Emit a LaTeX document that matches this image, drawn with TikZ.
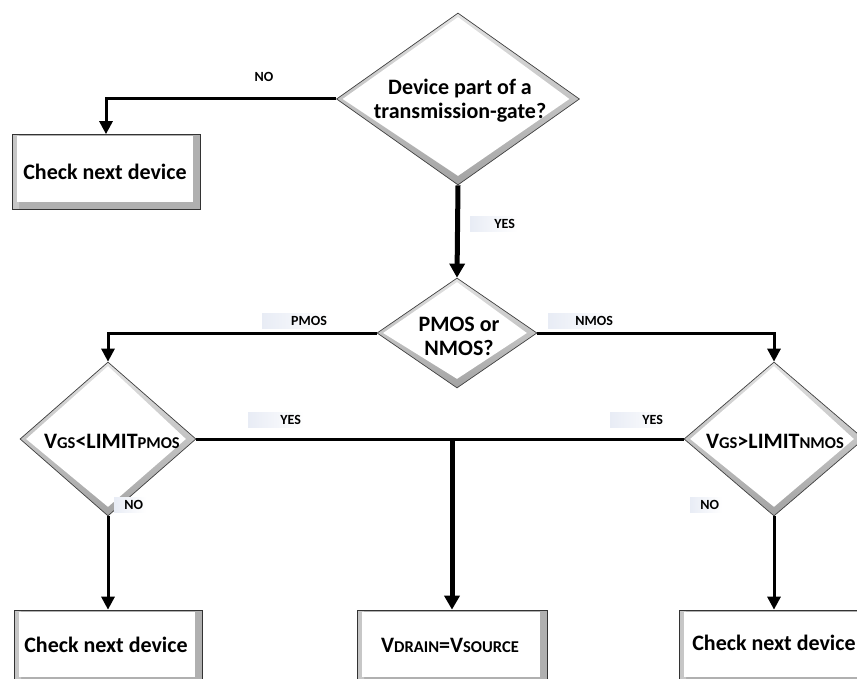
\documentclass[tikz,border=0pt]{standalone}
\usepackage{fontspec}
\setmainfont{Carlito}
\usetikzlibrary{arrows.meta,shapes.geometric,calc}

\definecolor{labelbg}{RGB}{232,236,245}
% reduced capitals used for subscripts such as V_GS
\newcommand\redcaps[1]{{\fontsize{16.5}{16.5}\selectfont #1}}

\tikzset{
  flowbox/.style={rectangle, draw=black!80, line width=0.7pt, inner sep=0pt,
    fill=gray!62,
    path picture={
      \fill[left color=gray!45, right color=white]
        (path picture bounding box.north west) rectangle
        ([xshift=7pt]path picture bounding box.south west);
      \fill[white]
        ([xshift=5pt,yshift=-2pt]path picture bounding box.north west) rectangle
        ([xshift=-7pt,yshift=7pt]path picture bounding box.south east);
    }},
  flowdia/.style={diamond, draw=black!75, line width=0.7pt, inner sep=0pt,
    top color=gray!22, bottom color=gray!72,
    path picture={
      \fill[white]
        ([yshift=-4pt]path picture bounding box.north) --
        ([xshift=-10pt]path picture bounding box.east) --
        ([yshift=9pt]path picture bounding box.south) --
        ([xshift=6pt]path picture bounding box.west) -- cycle;
    }},
  maintext/.style={font=\fontsize{22}{24}\selectfont\bfseries, align=center, inner sep=0pt},
  flowlbl/.style={font=\fontsize{14}{16}\selectfont\bfseries, inner sep=3pt,
    left color=labelbg, right color=white, align=right},
  plainlbl/.style={font=\fontsize{14}{16}\selectfont\bfseries, inner sep=3pt},
  conn/.style={line width=3pt, line join=miter,
    -{Triangle[length=13pt,width=13pt]}},
  thickconn/.style={line width=5pt, line join=miter,
    -{Triangle[length=14pt,width=15pt]}},
  flowline/.style={line width=3pt},
}

\begin{document}
\begin{tikzpicture}[x=1pt,y=-1pt]
\useasboundingbox (0,0) rectangle (857,679);
\clip (0,0) rectangle (857,679);

% decision shapes
\node[flowdia, minimum width=243pt, minimum height=172pt] (q1) at (458,99) {};
\node[flowdia, minimum width=160pt, minimum height=110pt] (q2) at (457,333) {};
\node[flowdia, minimum width=176pt, minimum height=154pt] (lp) at (108,439) {};
\node[flowdia, minimum width=180pt, minimum height=154pt] (rn) at (774,439) {};

% action boxes
\node[flowbox, minimum width=188pt, minimum height=75pt] (b0) at (106,172) {};
\node[flowbox, minimum width=188pt, minimum height=74pt] (b1) at (108,647) {};
\node[flowbox, minimum width=190pt, minimum height=74pt] (b2) at (452,647) {};
\node[flowbox, minimum width=190pt, minimum height=74pt] (b3) at (774,647) {};

% texts
\node[maintext] (q1t) at (460,101) {Device part of a\\transmission-gate?};
\node[maintext] (q2t) at (459,336) {PMOS or\\NMOS?};
\node[maintext] (lpt) at (112,441) {V\redcaps{GS}<LIMIT\redcaps{PMOS}};
\node[maintext] (rnt) at (775,441) {V\redcaps{GS}>LIMIT\redcaps{NMOS}};
\node[maintext] (b0t) at (105,172) {Check next device};
\node[maintext] (b1t) at (106,645) {Check next device};
\node[maintext] (b2t) at (450,645) {V\redcaps{DRAIN}=V\redcaps{SOURCE}};
\node[maintext] (b3t) at (774,643) {Check next device};

% connectors
\draw[conn] (q1.west) -| (b0.north);
\draw[thickconn] (q1.south) -- (q2.north);
\draw[conn] (q2.west) -| (lp.north);
\draw[conn] (q2.east) -| (rn.north);
\draw[flowline] (lp.east) -- (rn.west);
\draw[thickconn] (lp.east -| b2.north) -- (b2.north);
\draw[conn] (lp.south) -- (b1.north);
\draw[conn] (rn.south) -- (b3.north);

% branch labels
\node[plainlbl] (lno1) at (264,77) {NO};
\node[flowlbl, text width=42pt] (lyes1) at (494,224) {YES};
\node[flowlbl, text width=62pt] (lpmos) at (296,321) {PMOS};
\node[flowlbl, text width=62pt] (lnmos) at (582,321) {NMOS};
\node[flowlbl, text width=50pt] (lyes2) at (276,420) {YES};
\node[flowlbl, text width=50pt] (lyes3) at (638,420) {YES};
\node[flowlbl, text width=26pt] (lno2) at (130,505) {NO};
\node[flowlbl, text width=26pt] (lno3) at (706,505) {NO};
\end{tikzpicture}
\end{document}
